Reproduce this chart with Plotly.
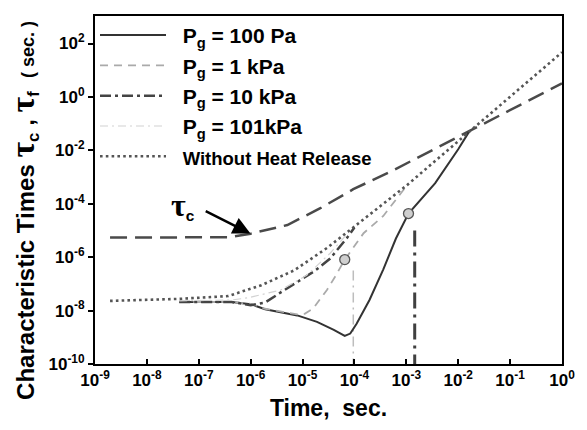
import plotly.graph_objects as go

# Time axis ticks (s) and characteristic-time axis ticks (s)
x_tick_vals = [1e-9, 1e-8, 1e-7, 1e-6, 1e-5, 1e-4, 1e-3, 1e-2, 1e-1, 1e0]
x_tick_text = ["10<sup>-9</sup>", "10<sup>-8</sup>", "10<sup>-7</sup>", "10<sup>-6</sup>",
               "10<sup>-5</sup>", "10<sup>-4</sup>", "10<sup>-3</sup>", "10<sup>-2</sup>",
               "10<sup>-1</sup>", "10<sup>0</sup>"]
y_tick_vals = [1e-10, 1e-8, 1e-6, 1e-4, 1e-2, 1e0, 1e2]
y_tick_text = ["10<sup>-10</sup>", "10<sup>-8</sup>", "10<sup>-6</sup>", "10<sup>-4</sup>",
               "10<sup>-2</sup>", "10<sup>0</sup>", "10<sup>2</sup>"]

# Chemical time tau_c
tc_t = [1.95e-9, 4.0e-7, 1.0e-6, 5.1e-6, 2.2e-5, 9.5e-5, 5.6e-4, 1.6e-2, 1.0]
tc_v = [5.4e-6, 5.6e-6, 7.6e-6, 1.6e-5, 6.8e-5, 3.5e-4, 1.8e-3, 5.0e-2, 3.2]

# Flame time without heat release
nohr_t = [1.95e-9, 4.2e-8, 3.7e-7, 1.6e-6, 6.9e-6, 2.95e-5, 9.5e-5, 1.02e-3, 1.6e-2, 1.0]
nohr_v = [2.3e-8, 2.75e-8, 3.5e-8, 8.9e-8, 3.2e-7, 2.2e-6, 1.3e-5, 4.9e-4, 4.8e-2, 47.0]

# Pg = 100 Pa
p100_t = [4.2e-8, 4.3e-7, 1.0e-6, 1.9e-6, 7.9e-6, 1.9e-5, 4.0e-5, 6.5e-5, 8.3e-5, 1.1e-4,
          1.95e-4, 3.6e-4, 6.3e-4, 1.1e-3, 3.6e-3, 1.0e-2, 1.6e-2]
p100_v = [2.1e-8, 2.1e-8, 1.74e-8, 1.12e-8, 6.6e-9, 3.8e-9, 1.9e-9, 1.12e-9, 1.38e-9, 3.2e-9,
          2.5e-8, 3.5e-7, 5.0e-6, 4.3e-5, 5.9e-4, 1.1e-2, 4.8e-2]

# Pg = 1 kPa
p1k_t = [4.2e-8, 4.3e-7, 1.0e-6, 1.9e-6, 7.9e-6, 1.1e-5, 1.6e-5, 2.95e-5, 4.2e-5, 6.5e-5,
         1.5e-4, 3.6e-4, 8.7e-4, 1.1e-3]
p1k_v = [2.1e-8, 2.1e-8, 1.8e-8, 1.17e-8, 7.2e-9, 7.6e-9, 1.2e-8, 5.9e-8, 1.8e-7, 8.1e-7,
         7.9e-6, 3.5e-5, 3.2e-4, 5.6e-4]

# Pg = 10 kPa
p10k_t = [4.2e-8, 4.3e-7, 1.0e-6, 1.9e-6, 3.8e-6, 7.9e-6, 1.7e-5, 3.4e-5, 7.1e-5, 1.0e-4]
p10k_v = [2.1e-8, 2.1e-8, 1.6e-8, 2.0e-8, 4.8e-8, 1.2e-7, 3.0e-7, 8.9e-7, 5.1e-6, 1.3e-5]

# Pg = 101 kPa
p101k_t = [4.2e-8, 4.3e-7, 8.9e-7, 3.8e-6, 1.2e-5, 3.4e-5, 7.9e-5]
p101k_v = [2.3e-8, 2.5e-8, 3.0e-8, 5.9e-8, 2.1e-7, 1.4e-6, 8.9e-6]

# Ignition points and their drop lines
ign_t = [6.5e-5, 1.1e-3]
ign_v = [8.1e-7, 4.3e-5]
drop_1k_t = [9.5e-5, 9.5e-5]
drop_1k_v = [3.2e-7, 1e-10]
drop_100_t = [1.45e-3, 1.45e-3]
drop_100_v = [1.0e-5, 1e-10]

SANS = "Liberation Sans, Arial, sans-serif"
SERIF = "Liberation Serif"
PAD = "\u00a0\u00a0"

fig = go.Figure()

# drop lines (underneath)
fig.add_trace(go.Scatter(x=drop_1k_t, y=drop_1k_v, mode="lines", showlegend=False,
                         line=dict(color="#bdbdbd", width=1.5, dash="10px,5px,2px,5px")))
fig.add_trace(go.Scatter(x=drop_100_t, y=drop_100_v, mode="lines", showlegend=False,
                         line=dict(color="#404040", width=3, dash="16px,6px,3px,6px")))

fig.add_trace(go.Scatter(x=tc_t, y=tc_v, mode="lines", showlegend=False,
                         line=dict(color="#4a4a4a", width=2.5, dash="17px,8px")))

fig.add_trace(go.Scatter(x=p100_t, y=p100_v, mode="lines", name=PAD + "P<sub>g</sub> = 100 Pa",
                         legendgroup="a", line=dict(color="#333333", width=2)))
fig.add_trace(go.Scatter(x=p1k_t, y=p1k_v, mode="lines", name=PAD + "P<sub>g</sub> = 1 kPa",
                         legendgroup="b", line=dict(color="#aaaaaa", width=1.8, dash="8px,6px")))
fig.add_trace(go.Scatter(x=p10k_t, y=p10k_v, mode="lines", name=PAD + "P<sub>g</sub> = 10 kPa",
                         legendgroup="c",
                         line=dict(color="#444444", width=2.5, dash="11px,4px,3px,4px")))
fig.add_trace(go.Scatter(x=p101k_t, y=p101k_v, mode="lines", name=PAD + "P<sub>g</sub> = 101kPa",
                         legendgroup="d", line=dict(color="#d2d2d2", width=1.2, dash="8px,4px,2px,4px")))
fig.add_trace(go.Scatter(x=nohr_t, y=nohr_v, mode="lines",
                         name=PAD + "<span style='font-size:18.5px'>Without Heat Release</span>",
                         legendgroup="e",
                         line=dict(color="#555555", width=2.6, dash="2.6px,3.2px")))

fig.add_trace(go.Scatter(x=ign_t, y=ign_v, mode="markers", showlegend=False,
                         marker=dict(size=10, color="#cfcfcf",
                                     line=dict(color="#555555", width=1.3))))

fig.update_xaxes(type="log", range=[-9, 0], tickvals=x_tick_vals, ticktext=x_tick_text,
                 ticks="inside", ticklen=5, tickwidth=1.5, tickcolor="black",
                 showline=True, linecolor="black", linewidth=2, mirror=True,
                 showgrid=False, zeroline=False,
                 tickfont=dict(family=SANS, size=17, color="black", weight="bold"),
                 title=dict(text="Time,  sec.", font=dict(family=SANS, size=23, color="black", weight="bold"),
                            standoff=10))
fig.update_yaxes(type="log", range=[-10, 3.03], tickvals=y_tick_vals, ticktext=y_tick_text,
                 ticks="outside", ticklen=5, tickwidth=1.5, tickcolor="black",
                 showline=True, linecolor="black", linewidth=2, mirror=True,
                 showgrid=False, zeroline=False,
                 tickfont=dict(family=SANS, size=17, color="black", weight="bold"))

TAU = "<span style='font-family:" + SERIF + ";font-size:34px'>τ</span>"
fig.add_annotation(xref="paper", yref="paper", x=-0.152, y=0.44, textangle=-90,
                   showarrow=False, xanchor="center", yanchor="middle",
                   text=("Characteristic Times " + TAU + "<sub>c</sub> , " + TAU + "<sub>f</sub>  "
                         "<span style='font-size:18px'>( sec. )</span>"),
                   font=dict(family=SANS, size=24, color="black", weight="bold"))

# tau_c label with arrow to the kink of the chemical-time curve
fig.add_annotation(x=-5.97, y=-5.15, xref="x", yref="y", text="", showarrow=True,
                   ax=-48, ay=-24, arrowhead=2, arrowsize=1.4, arrowwidth=2.5,
                   arrowcolor="black", standoff=2)
fig.add_annotation(xref="x", yref="y", x=-7.3, y=-4.05, showarrow=False,
                   text="<span style='font-family:" + SERIF + ";font-size:32px'>τ</span><sub>c</sub>",
                   font=dict(family=SANS, size=22, color="black", weight="bold"))

fig.update_layout(
    width=587, height=430,
    margin=dict(l=95, r=19, t=16, b=66),
    paper_bgcolor="white", plot_bgcolor="white",
    legend=dict(x=0.0, y=1.003, xanchor="left", yanchor="top", bgcolor="rgba(0,0,0,0)",
                traceorder="grouped", tracegroupgap=0, itemwidth=66,
                font=dict(family=SANS, size=21, color="black", weight="bold")),
)

fig.write_html("out.html")
